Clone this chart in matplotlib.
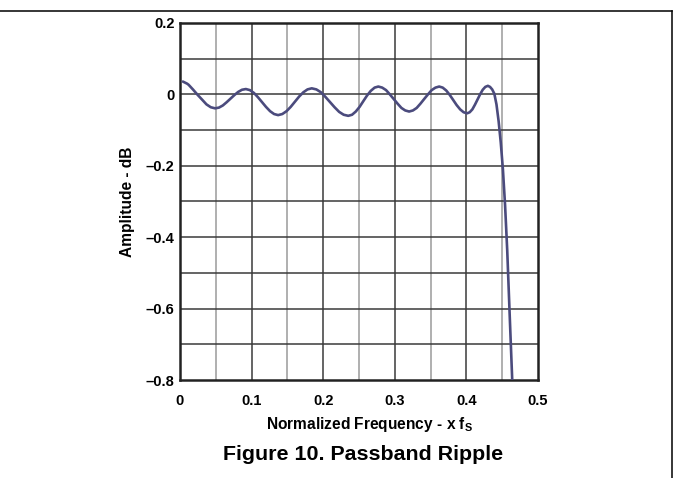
import matplotlib
matplotlib.use("Agg")
import matplotlib.pyplot as plt
from matplotlib.lines import Line2D

plt.rcParams['font.family'] = ['Liberation Sans', 'DejaVu Sans']
plt.rcParams['mathtext.fontset'] = 'custom'
plt.rcParams['mathtext.rm'] = 'Liberation Sans:bold'
plt.rcParams['mathtext.bf'] = 'Liberation Sans:bold'

# Data (normalized frequency, amplitude in dB)
freq = [0.004, 0.010, 0.012, 0.018, 0.0245, 0.031, 0.037, 0.043, 0.049,
        0.0544, 0.0598, 0.0651, 0.0705, 0.0759, 0.0813, 0.0866, 0.092,
        0.0976, 0.1033, 0.1089, 0.1145, 0.1201, 0.1258, 0.1314, 0.137,
        0.1429, 0.1488, 0.1546, 0.1605, 0.1664, 0.1723, 0.1781, 0.184,
        0.1904, 0.1968, 0.2031, 0.2095, 0.2159, 0.2223, 0.2286, 0.235,
        0.2403, 0.2455, 0.2508, 0.2560, 0.2613, 0.2665, 0.2718, 0.277,
        0.2824, 0.2878, 0.2931, 0.2985, 0.3039, 0.3093, 0.3146, 0.320,
        0.3253, 0.3305, 0.3358, 0.3410, 0.3463, 0.3515, 0.3568, 0.362,
        0.3669, 0.3718, 0.3766, 0.3815, 0.3864, 0.3913, 0.3961, 0.401,
        0.4046, 0.4083, 0.4119, 0.4155, 0.4191, 0.4228, 0.4264, 0.430,
        0.433, 0.436, 0.439, 0.442, 0.445, 0.448, 0.451, 0.454,
        0.457, 0.4605, 0.464, 0.466]
amp_db = [0.036, 0.030, 0.027, 0.014, -0.001, -0.015, -0.028, -0.036, -0.039,
          -0.037, -0.031, -0.022, -0.012, -0.002, 0.007, 0.013, 0.015,
          0.012, 0.004, -0.008, -0.0215, -0.035, -0.047, -0.055, -0.058,
          -0.055, -0.047, -0.035, -0.0205, -0.006, 0.006, 0.014, 0.017,
          0.014, 0.006, -0.007, -0.0215, -0.036, -0.049, -0.057, -0.060,
          -0.057, -0.048, -0.035, -0.019, -0.003, 0.010, 0.019, 0.022,
          0.019, 0.012, 0.000, -0.013, -0.026, -0.038, -0.045, -0.048,
          -0.045, -0.038, -0.026, -0.013, 0.000, 0.012, 0.019, 0.022,
          0.019, 0.011, -0.001, -0.0155, -0.030, -0.042, -0.050, -0.053,
          -0.050, -0.042, -0.029, -0.0145, 0.000, 0.013, 0.021, 0.024,
          0.021, 0.014, 0.002, -0.028, -0.075, -0.135, -0.210, -0.310,
          -0.436, -0.620, -0.800, -0.900]

x_ticks = [0, 0.1, 0.2, 0.3, 0.4, 0.5]
x_labels = ['0', '0.1', '0.2', '0.3', '0.4', '0.5']
y_ticks = [0.2, 0, -0.2, -0.4, -0.6, -0.8]
y_labels = ['0.2', '0', '\u20130.2', '\u20130.4', '\u20130.6', '\u20130.8']

W, H = 673, 478
fig = plt.figure(figsize=(W / 100, H / 100), dpi=100)
ax = fig.add_axes([180 / W, 1 - 380 / H, (538 - 180) / W, (380 - 23) / H])

ax.set_xlim(0, 0.5)
ax.set_ylim(-0.8, 0.2)

# grid lines
for i in range(1, 10):
    xv = i * 0.05
    major = (i % 2 == 0)
    ax.axvline(xv, color='#3a3a3a' if major else '#9a9a9a', lw=1.1, zorder=1)
for j in range(1, 10):
    yv = 0.2 - j * 0.1
    ax.axhline(yv, color='#3a3a3a', lw=1.1, zorder=1)

ax.plot(freq, amp_db, color='#4b4b7d', lw=1.9, zorder=3, solid_capstyle='round',
        solid_joinstyle='round')

ax.set_xticks(x_ticks)
ax.set_xticklabels(x_labels, fontsize=10.5, fontweight='bold')
ax.set_yticks(y_ticks)
ax.set_yticklabels(y_labels, fontsize=10.5, fontweight='bold')
ax.tick_params(axis='x', length=0, pad=10)
ax.tick_params(axis='y', length=0, pad=4)

for s in ax.spines.values():
    s.set_linewidth(1.8)
    s.set_color('#222222')

ax.set_xlabel(r'Normalized Frequency - x f$_\mathbf{S}$', fontsize=11.2,
              fontweight='bold')
ax.xaxis.set_label_coords((370 - 180) / 358, (380 - 415) / 357)
ax.set_ylabel('Amplitude - dB', fontsize=11.2, fontweight='bold')
ax.yaxis.set_label_coords((135 - 180) / 358, 0.5)

fig.text(363 / W, 1 - 455 / H, 'Figure 10. Passband Ripple', fontsize=15.4,
         fontweight='bold', ha='center', va='center')

# page frame lines
fig.add_artist(Line2D([0, 671.5 / W], [1 - 10.5 / H, 1 - 10.5 / H],
                      transform=fig.transFigure, color='black', lw=1.1))
fig.add_artist(Line2D([671.5 / W, 671.5 / W], [1 - 10.5 / H, 0],
                      transform=fig.transFigure, color='black', lw=1.1))

fig.savefig('out.png', dpi=100)
